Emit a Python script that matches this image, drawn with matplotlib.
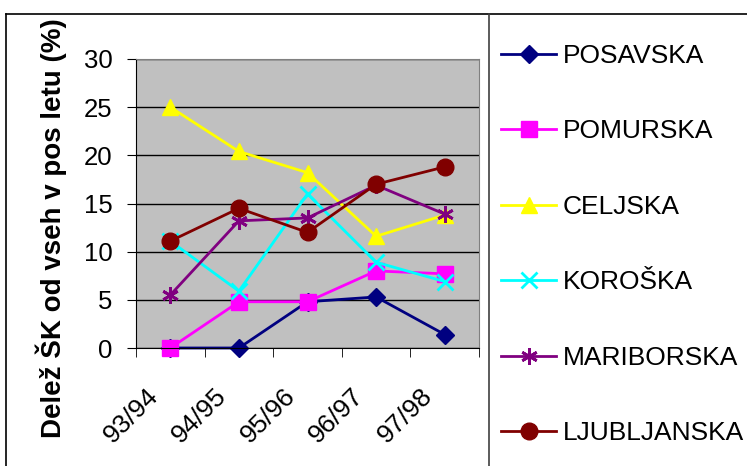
import numpy as np
import matplotlib.pyplot as plt
import matplotlib.transforms as mtransforms
from matplotlib.lines import Line2D

plt.rcParams['font.family'] = ['Liberation Sans', 'DejaVu Sans']

leta = ['93/94', '94/95', '95/96', '96/97', '97/98']
posavska = [0, 0, 4.8, 5.3, 1.4]
pomurska = [0, 4.8, 4.8, 8.0, 7.7]
celjska = [25.0, 20.4, 18.2, 11.6, 13.8]
koroska = [11.1, 5.9, 16.0, 8.9, 6.9]
mariborska = [5.5, 13.2, 13.5, 16.9, 13.9]
ljubljanska = [11.1, 14.5, 12.0, 17.0, 18.8]

serije = [
    ('POSAVSKA', posavska, '#000080', 'D', 9),
    ('POMURSKA', pomurska, '#FF00FF', 's', 11),
    ('CELJSKA', celjska, '#FFFF00', '^', 12),
    ('KOROŠKA', koroska, '#00FFFF', 'x', 11),
    ('MARIBORSKA', mariborska, '#800080', (6, 2, 0), 12),
    ('LJUBLJANSKA', ljubljanska, '#800000', 'o', 12),
]

fig = plt.figure(figsize=(7.47, 4.66), dpi=100)
ax = fig.add_axes([136/747, 1-348/466, (479-136)/747, (348-59)/466])
ax.set_facecolor('#C0C0C0')

x = np.arange(len(leta))
handles = []
for ime, vals, barva, mk, ms in serije:
    l, = ax.plot(x, vals, color=barva, marker=mk, markersize=ms, lw=2,
                 markeredgewidth=2 if mk in ('x', (6, 2, 0)) else 1,
                 markeredgecolor=barva, label=ime, clip_on=False)
    handles.append(l)

ax.set_xlim(-0.5, 4.5)
ax.set_ylim(0, 30)
ax.set_yticks(range(0, 31, 5))
ax.yaxis.grid(True, color='black', lw=1)
ax.set_axisbelow(True)
ax.set_xticks(x)
ax.set_xticklabels(leta, rotation=45, ha='right', va='center', rotation_mode='anchor')
ax.set_xticks(np.arange(-0.5, 5, 1), minor=True)
ax.tick_params(axis='x', which='major', length=0, pad=0, labelsize=19)
ax.tick_params(axis='x', which='minor', length=6.5, direction='out', color='black')
ax.tick_params(axis='y', length=6.5, direction='out', labelsize=18.5, pad=10.5)
premik = mtransforms.ScaledTranslation(-16/100, -44/100, fig.dpi_scale_trans)
for t in ax.get_xticklabels():
    t.set_transform(t.get_transform() + premik)
for s in ['top', 'right']:
    ax.spines[s].set_color('#808080')
ax.spines['left'].set_color('black')
ax.spines['bottom'].set_color('black')

fig.text(51/747, 1-228/466, 'Delež ŠK od vseh v pos letu (%)', rotation=90,
         ha='center', va='center', fontsize=20, fontweight='bold')

fig.legend(handles=handles, loc='upper left', bbox_to_anchor=(501/747, 1-44/466),
           frameon=False, fontsize=19, handlelength=2.1, handletextpad=0.25,
           labelspacing=1.95, borderaxespad=0, borderpad=0)

# okvir grafikona
fig.add_artist(Line2D([6/747, 1], [1-14/466, 1-14/466], color='black', lw=1.2))
fig.add_artist(Line2D([6/747, 6/747], [0, 1-14/466], color='black', lw=1.2))
fig.add_artist(Line2D([489/747, 489/747], [0, 1-14/466], color='#404040', lw=1.2))

fig.savefig('out.png', dpi=100)
